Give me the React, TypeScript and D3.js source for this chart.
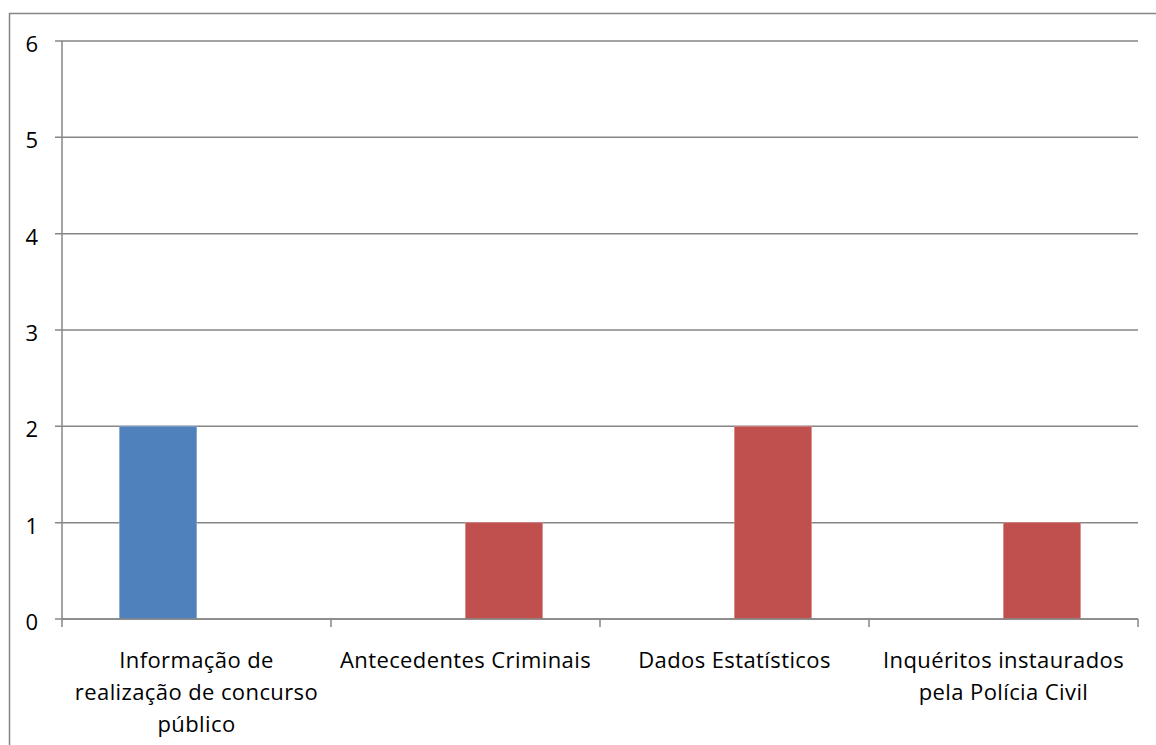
import { useEffect, useRef } from 'react';
import * as d3 from 'd3';

const categories = [
    "Informação de realização de concurso público",
    "Antecedentes Criminais",
    "Dados Estatísticos",
    "Inquéritos instaurados pela Polícia Civil",
];
const categoryLines = [
    ["Informação de", "realização de concurso", "público"],
    ["Antecedentes Criminais"],
    ["Dados Estatísticos"],
    ["Inquéritos instaurados", "pela Polícia Civil"],
];
const seriesNames = ["Série 1", "Série 2"];
const blueValues = [2, 0, 0, 0];
const redValues = [0, 1, 2, 1];
const yTicks = [0, 1, 2, 3, 4, 5, 6];

export default function App() {
    const svgRef = useRef<SVGSVGElement>(null);

    useEffect(() => {
        if (!svgRef.current) return;
        const svg = d3.select(svgRef.current);
        svg.selectAll("*").remove();

        const width = 1156;
        const height = 745;
        const left = 62;
        const right = 1138;
        const top = 41;
        const bottom = 619;
        const grey = "#868686";
        const font = "'Open Sans', sans-serif";

        // outer chart border
        svg.append("rect")
            .attr("x", 9.5).attr("y", 13.5)
            .attr("width", width).attr("height", height)
            .attr("fill", "white")
            .attr("stroke", grey).attr("stroke-width", 1.5);

        const x = d3.scaleBand().domain(categories).range([left, right]).padding(0);
        const xs = d3.scaleBand().domain(seriesNames).range([0, x.bandwidth()])
            .paddingInner(0).paddingOuter(0.75);
        const y = d3.scaleLinear().domain([0, 6]).range([bottom, top]);

        // gridlines
        svg.append("g")
            .selectAll("line")
            .data(yTicks)
            .join("line")
            .attr("x1", left - 7).attr("x2", right)
            .attr("y1", d => y(d)).attr("y2", d => y(d))
            .attr("stroke", grey).attr("stroke-width", 1.5);

        // y labels
        svg.append("g")
            .selectAll("text")
            .data(yTicks)
            .join("text")
            .attr("x", 38)
            .attr("y", d => y(d) + 2)
            .attr("text-anchor", "end")
            .attr("dominant-baseline", "central")
            .style("font-family", font)
            .style("font-size", "22px")
            .attr("fill", "black")
            .text(d => d);

        // bars
        const data = categories.map((c, i) => ({ c, values: [blueValues[i], redValues[i]] }));
        const colors = ["#4F81BD", "#C0504D"];
        const strokes = ["#7EA1CF", "#D58684"];
        svg.append("g")
            .selectAll("g")
            .data(data)
            .join("g")
            .attr("transform", d => `translate(${x(d.c)},0)`)
            .selectAll("rect")
            .data(d => d.values.map((v, i) => ({ v, s: seriesNames[i], i })).filter(e => e.v > 0))
            .join("rect")
            .attr("x", d => xs(d.s) || 0)
            .attr("width", xs.bandwidth())
            .attr("y", d => y(d.v))
            .attr("height", d => y(0) - y(d.v))
            .attr("fill", d => colors[d.i])
            .attr("stroke", d => strokes[d.i])
            .attr("stroke-width", 0.8);

        // axes lines
        svg.append("line")
            .attr("x1", left).attr("x2", left)
            .attr("y1", top).attr("y2", bottom)
            .attr("stroke", grey).attr("stroke-width", 1.5);
        svg.append("line")
            .attr("x1", left).attr("x2", right)
            .attr("y1", bottom).attr("y2", bottom)
            .attr("stroke", grey).attr("stroke-width", 1.5);

        // x ticks at category boundaries
        const bounds = categories.map(c => x(c) || 0).concat([right]);
        svg.append("g")
            .selectAll("line")
            .data(bounds)
            .join("line")
            .attr("x1", d => d).attr("x2", d => d)
            .attr("y1", bottom).attr("y2", bottom + 8)
            .attr("stroke", grey).attr("stroke-width", 1.5);

        // category labels
        svg.append("g")
            .selectAll("text")
            .data(categories)
            .join("text")
            .attr("text-anchor", "middle")
            .style("font-family", font)
            .style("font-size", "22px")
            .style("letter-spacing", "0.4px")
            .attr("fill", "black")
            .each(function (c, i) {
                const cx = (x(c) || 0) + x.bandwidth() / 2;
                d3.select(this).selectAll("tspan")
                    .data(categoryLines[i])
                    .join("tspan")
                    .attr("x", cx)
                    .attr("y", (_, j) => 668 + j * 32)
                    .text(t => t);
            });
    }, []);

    return (
        <svg ref={svgRef} width={1156} height={745}
            style={{ position: "absolute", left: 0, top: 0, background: "white" }} />
    );
}
